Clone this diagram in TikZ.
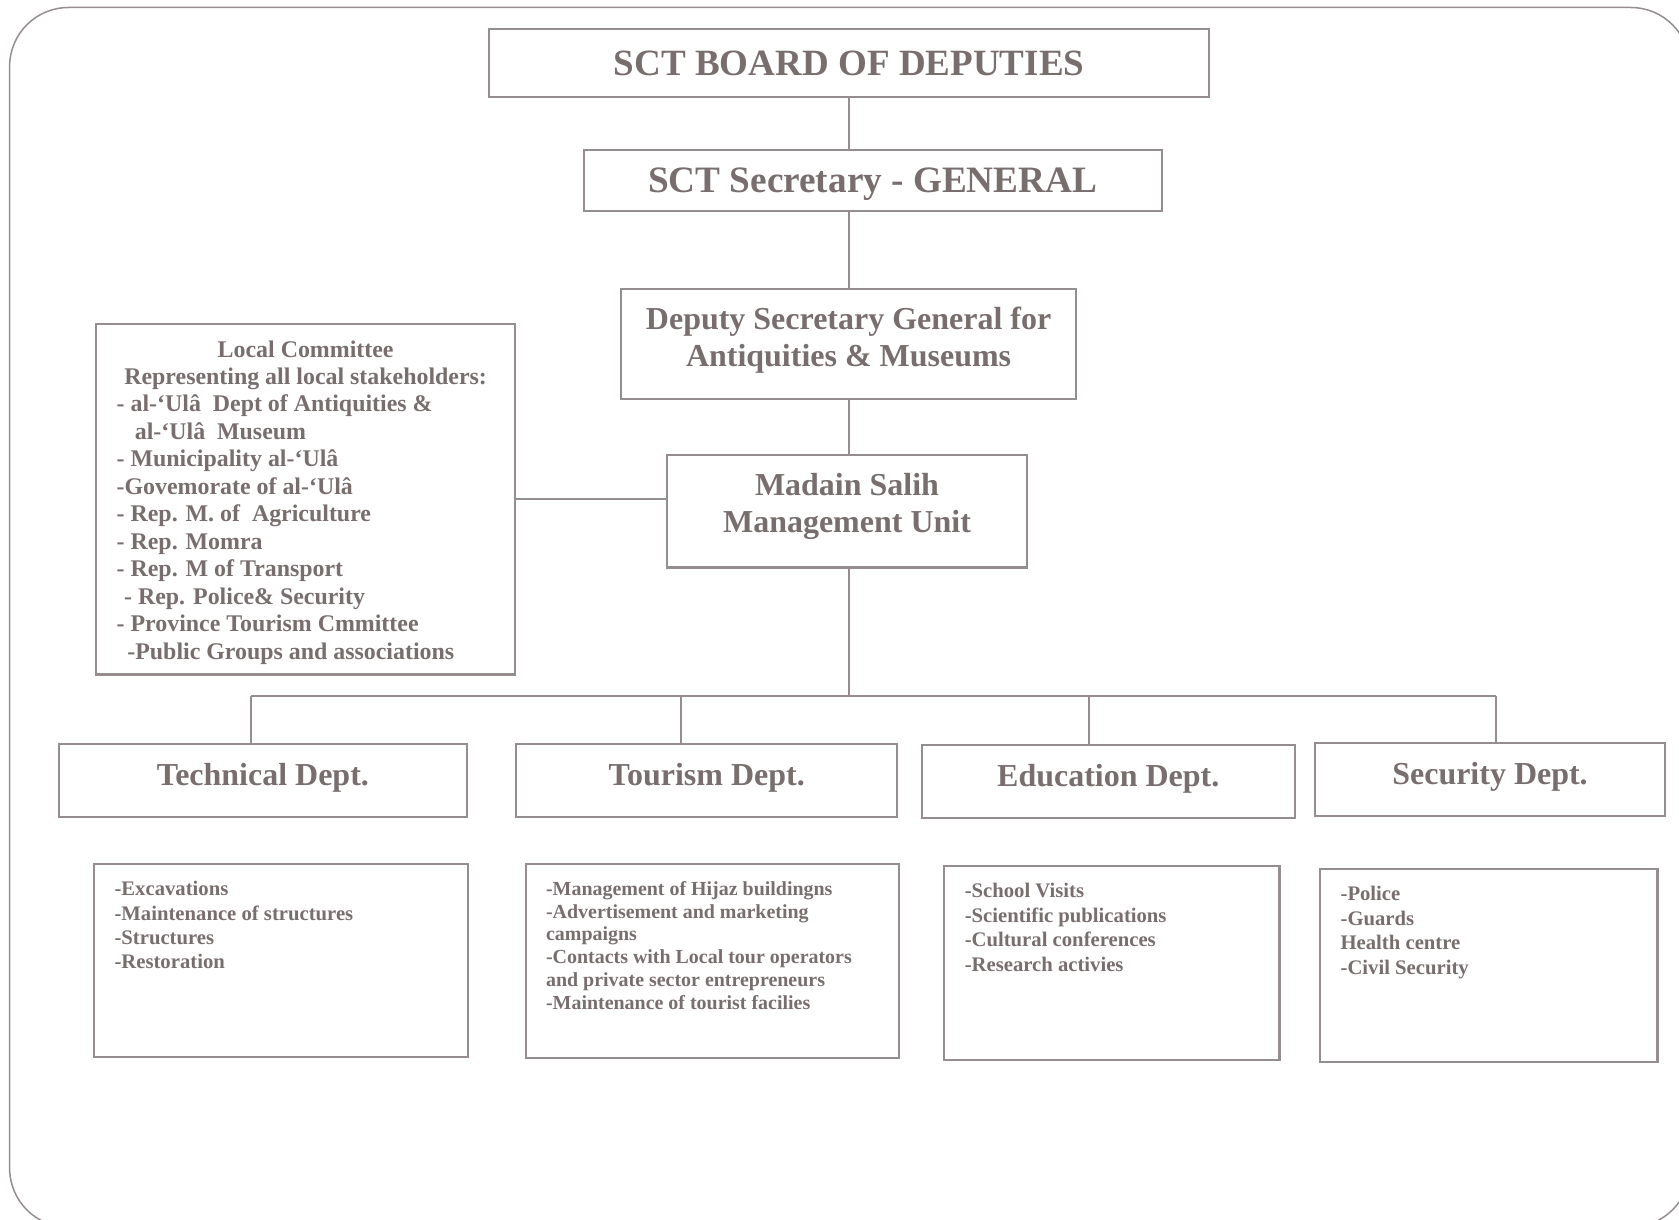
\documentclass[tikz,border=0pt]{standalone}
\usepackage{fontspec}
\setmainfont{Liberation Serif}
\usepackage{tikz}
\definecolor{inkgray}{RGB}{120,110,110}
\definecolor{rulegray}{RGB}{150,142,142}

\begin{document}
\begin{tikzpicture}[x=0.02cm, y=-0.02cm, line width=1.1pt]
    \tikzset{unit/.style = {shape=rectangle, draw=rulegray, text=inkgray, align=center,
        font=\bfseries\fontsize{17}{19.8}\selectfont}}
    \tikzset{listbox/.style = {shape=rectangle, draw=rulegray, text=inkgray, anchor=north west,
        inner xsep=0.38cm, inner ysep=0.32cm, font=\bfseries\fontsize{11}{13}\selectfont}}
    \tikzset{edge/.style = {draw=rulegray}}

    \useasboundingbox (0,0) rectangle (1568,1139);
    \begin{scope}
      \clip (0,0) rectangle (1568,1139);
      \draw[rulegray, line width=0.8pt, rounded corners=1.1cm] (9,7) rectangle (1578,1146);
    \end{scope}

    % vertices
    \node[unit, minimum width=13.44cm, minimum height=1.28cm,
      font=\bfseries\fontsize{19.7}{22}\selectfont] (board) at (793,59) {SCT BOARD OF DEPUTIES};
    \node[unit, minimum width=10.8cm, minimum height=1.14cm, text depth=0pt,
      font=\bfseries\fontsize{19.8}{22}\selectfont] (secgen) at (815,168.5) {SCT Secretary - GENERAL};
    \node[unit, minimum width=8.5cm, minimum height=2.06cm, text depth=8pt] (deputy) at (792.5,321.5)
      {Deputy Secretary General for\\Antiquities \& Museums};
    \node[unit, minimum width=6.72cm, minimum height=2.1cm, text depth=8.8pt] (msmu) at (791,477.5)
      {Madain Salih\\Management Unit};
    \node[listbox, inner ysep=0.3cm, font=\bfseries\fontsize{12.7}{14.6}\selectfont] (local) at (89,302)
      {\parbox[t][5.94cm][t]{7.06cm}{\centering Local Committee\\Representing all local stakeholders:\par
       \raggedright - al-‘Ulâ~ Dept of Antiquities \&\\
       \hspace*{0.34cm}al-‘Ulâ~ Museum\\
       - Municipality al-‘Ulâ\\
       -Govemorate of al-‘Ulâ\\
       - Rep. M. of~ Agriculture\\
       - Rep. Momra\\
       - Rep. M of Transport\\
       \hspace*{0.14cm}- Rep. Police\& Security\\
       - Province Tourism Cmmittee\\
       \hspace*{0.2cm}-Public Groups and associations}};

    \node[unit, minimum width=7.62cm, minimum height=1.36cm, text depth=7pt] (techdept) at (245.5,729) {Technical Dept.};
    \node[unit, minimum width=7.12cm, minimum height=1.36cm, text depth=7pt] (tourdept) at (660,729) {Tourism Dept.};
    \node[unit, minimum width=6.96cm, minimum height=1.36cm, text depth=7pt] (edudept) at (1035,730) {Education Dept.};
    \node[unit, minimum width=6.54cm, minimum height=1.36cm, text depth=7pt] (secdept) at (1391.5,728) {Security Dept.};

    \node[listbox] (techlist) at (87,806)
      {\parbox[t][2.96cm][t]{6.22cm}{-Excavations\\-Maintenance of structures\\-Structures\\-Restoration}};
    \node[listbox, font=\bfseries\fontsize{10.6}{12.1}\selectfont] (tourlist) at (490,806)
      {\parbox[t][2.98cm][t]{6.22cm}{-Management of Hijaz buildingns\\-Advertisement and marketing\\campaigns\\
       -Contacts with Local tour operators\\and private sector entrepreneurs\\-Maintenance of tourist facilies}};
    \node[listbox] (edulist) at (881,808)
      {\parbox[t][2.98cm][t]{5.5cm}{-School Visits\\-Scientific publications\\-Cultural conferences\\-Research activies}};
    \node[listbox] (seclist) at (1232,811)
      {\parbox[t][2.96cm][t]{5.54cm}{-Police\\-Guards\\Health centre\\-Civil Security}};

    % edges
    \coordinate (bus) at (793,650);
    \coordinate (jt) at (234,650);
    \coordinate (jo) at (636,650);
    \coordinate (je) at (1017,650);
    \coordinate (jy) at (1397,650);
    \draw[edge] (board.south) -- (board.south |- secgen.north);
    \draw[edge] (deputy.north |- secgen.south) -- (deputy.north);
    \draw[edge] (deputy.south) -- (deputy.south |- msmu.north);
    \draw[edge] (msmu.south -| bus) -- (bus);
    \draw[edge] (local.east) -- (local.east -| msmu.west);
    \draw[edge] (jt) -- (jy);
    \foreach \j/\d in {jt/techdept, jo/tourdept, je/edudept, jy/secdept}
      \draw[edge] (\j) -- (\j |- \d.north);
\end{tikzpicture}
\end{document}
